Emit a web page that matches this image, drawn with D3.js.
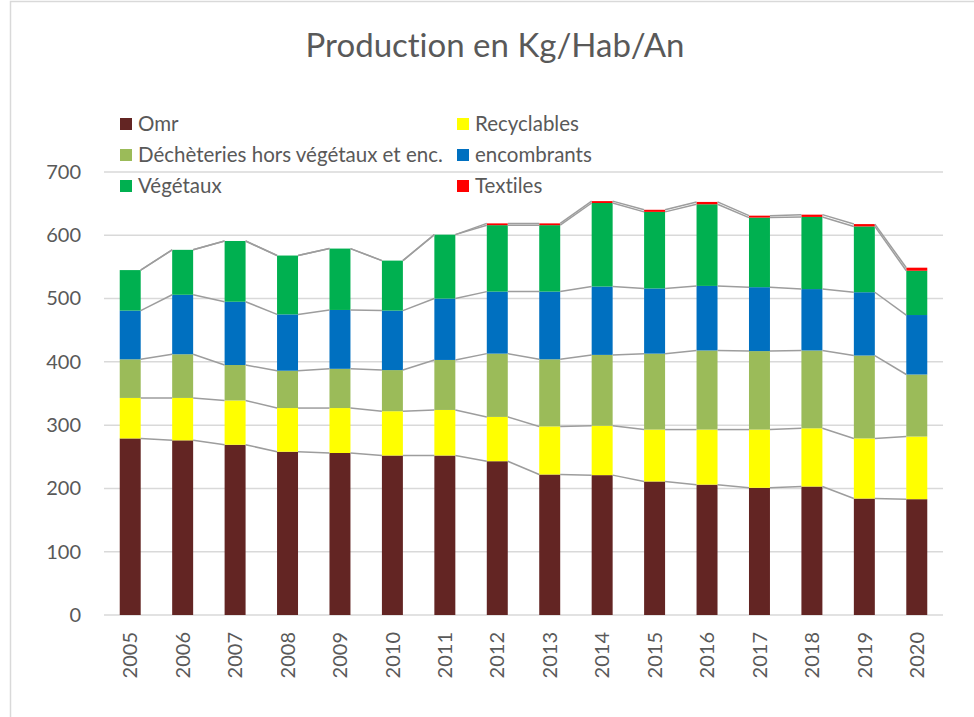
<!DOCTYPE html>
<html>
<head>
<meta charset="utf-8">
<script src="https://cdn.jsdelivr.net/npm/d3@7"></script>
<style>
  body { margin: 0; background: #fff; }
  svg text { font-family: Lato, "Open Sans", sans-serif; fill: #595959; font-variant-ligatures: none; font-feature-settings: "liga" 0; }
</style>
</head>
<body>
<div id="chart"></div>
<script>
// Data (kg / habitant / an)
var years = ['2005','2006','2007','2008','2009','2010','2011','2012','2013','2014','2015','2016','2017','2018','2019','2020'];
var omr = [279, 276, 269, 258, 256, 252, 252, 243, 222, 221, 211, 206, 201, 203, 184, 183];
var recyclables = [64, 67, 70, 69, 71, 70, 72, 70, 76, 78, 82, 87, 92, 92, 95, 99];
var decheteries = [61, 69, 56, 59, 62, 65, 79, 100, 106, 112, 120, 125, 124, 123, 131, 98];
var encombrants = [77, 94, 100, 89, 93, 94, 97, 98, 107, 108, 103, 102, 101, 97, 100, 94];
var vegetaux = [64, 71, 96, 93, 97, 79, 101, 105, 105, 132, 121, 129, 110, 114, 104, 70];
var textiles = [0, 0, 0, 0, 0, 0, 0, 2.8, 2.8, 3, 3.3, 3.7, 3, 3.6, 3.7, 4.8];
var yTicks = [0, 100, 200, 300, 400, 500, 600, 700];

var seriesNames = ['Omr', 'Recyclables', 'Déchèteries hors végétaux et enc.', 'encombrants', 'Végétaux', 'Textiles'];
var seriesColors = ['#632523', '#ffff00', '#9bbb59', '#0070c0', '#00b050', '#ff0000'];
var seriesValues = [omr, recyclables, decheteries, encombrants, vegetaux, textiles];

// Size
var width = 974,
    height = 717;

// Plot area
var plot = { left: 104, right: 943, top: 172, bottom: 615 };

// Rows for the stack
var rows = years.map(function(y, i) {
  var r = { year: y };
  seriesNames.forEach(function(s, j) { r[s] = seriesValues[j][i]; });
  return r;
});
var stacked = d3.stack().keys(seriesNames)(rows);

// Scales
var x = d3.scaleBand()
  .domain(years)
  .range([plot.left, plot.right])
  .paddingInner(0.6)
  .paddingOuter(0.3);

var y = d3.scaleLinear()
  .domain([0, 700])
  .range([plot.bottom, plot.top]);

var svg = d3.select('#chart').append('svg')
  .attr('width', width)
  .attr('height', height);

// Chart frame
svg.append('rect')
  .attr('x', 10.5)
  .attr('y', 1.5)
  .attr('width', 1000)
  .attr('height', 1000)
  .attr('fill', 'none')
  .attr('stroke', '#d9d9d9')
  .attr('stroke-width', 1.5);

// Title
svg.append('text')
  .attr('x', 495)
  .attr('y', 57)
  .attr('text-anchor', 'middle')
  .style('font-size', '33px')
  .text('Production en Kg/Hab/An');

// Gridlines
svg.append('g')
  .selectAll('line')
  .data(yTicks).enter()
  .append('line')
    .attr('x1', plot.left)
    .attr('x2', plot.right)
    .attr('y1', function(d) { return y(d); })
    .attr('y2', function(d) { return y(d); })
    .attr('stroke', '#d9d9d9')
    .attr('stroke-width', 1.5);

// Bars
var layers = svg.append('g')
  .selectAll('g')
  .data(stacked).enter()
  .append('g')
    .attr('fill', function(d, i) { return seriesColors[i]; });

layers.selectAll('rect')
  .data(function(d) { return d; }).enter()
  .append('rect')
    .attr('x', function(d) { return x(d.data.year); })
    .attr('width', x.bandwidth())
    .attr('y', function(d) { return y(d[1]); })
    .attr('height', function(d) { return y(d[0]) - y(d[1]); });

// Series lines between bars
var seriesLine = d3.line();
stacked.forEach(function(layer) {
  var pts = [];
  layer.forEach(function(d, i) {
    if (i > 0) pts.push([x(d.data.year), y(d[1])]);
    if (i < layer.length - 1) pts.push([x(d.data.year) + x.bandwidth(), y(d[1])]);
  });
  for (var k = 0; k < pts.length; k += 2) {
    svg.append('path')
      .attr('d', seriesLine([pts[k], pts[k + 1]]))
      .attr('fill', 'none')
      .attr('stroke', '#9d9d9d')
      .attr('stroke-width', 1.5);
  }
});

// Y axis
var yAxis = svg.append('g')
  .attr('transform', 'translate(' + plot.left + ',0)')
  .call(d3.axisLeft(y).tickValues(yTicks).tickSize(0).tickPadding(23));
yAxis.select('.domain').remove();
yAxis.selectAll('text')
  .style('font-size', '20px')
  .style('font-family', 'Lato, sans-serif')
  .attr('fill', '#595959');

// X axis
var xAxis = svg.append('g')
  .attr('transform', 'translate(0,' + plot.bottom + ')')
  .call(d3.axisBottom(x).tickSize(0));
xAxis.select('.domain').remove();
xAxis.selectAll('text')
  .attr('transform', 'rotate(-90)')
  .attr('x', -17)
  .attr('y', 0)
  .attr('dy', '0.36em')
  .style('text-anchor', 'end')
  .style('font-size', '20px')
  .style('font-family', 'Lato, sans-serif')
  .attr('fill', '#595959');

// Legend
var legend = svg.append('g');
var items = legend.selectAll('g')
  .data(seriesNames).enter()
  .append('g')
    .attr('transform', function(d, i) {
      var col = i % 2, row = Math.floor(i / 2);
      return 'translate(' + (col == 0 ? 120 : 457) + ',' + (124 + row * 31) + ')';
    });

items.append('rect')
  .attr('x', 0)
  .attr('y', -6)
  .attr('width', 12)
  .attr('height', 12)
  .attr('fill', function(d, i) { return seriesColors[i]; });

items.append('text')
  .attr('x', 18)
  .attr('y', 0)
  .attr('dy', '0.36em')
  .style('font-size', '20.5px')
  .text(function(d) { return d; });
</script>
</body>
</html>
